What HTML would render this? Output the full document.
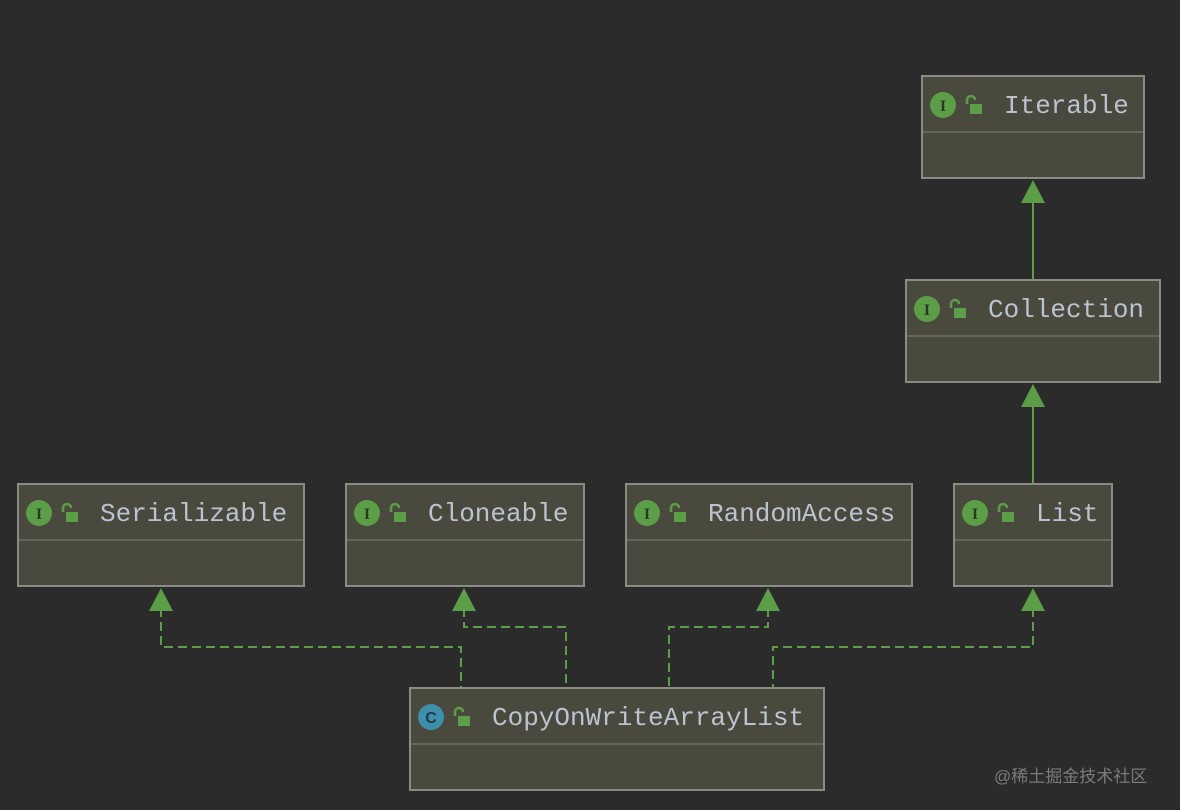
<!DOCTYPE html>
<html><head><meta charset="utf-8"><style>
html,body{margin:0;padding:0;background:#2b2b2b;}
svg{display:block;}
.t{font-family:"Liberation Mono",monospace;font-size:26px;fill:#bac3cf;}
</style></head><body>
<svg width="1180" height="810" xmlns="http://www.w3.org/2000/svg">
<rect width="1180" height="810" fill="#2b2b2b"/>
<defs>
<g id="lock"><path d="M-5,-4 v-4 a4,4 0 0 1 8,0" fill="none" stroke="#5b9e47" stroke-width="2.5"/><rect x="-2" y="-4" width="12" height="10" fill="#5b9e47"/></g>
</defs>
<g stroke="#5b9e47" stroke-width="2" fill="none">
<line x1="1033" y1="200" x2="1033" y2="280"/>
<line x1="1033" y1="404" x2="1033" y2="484"/>
<g stroke-dasharray="9,5">
<polyline points="161,608 161,647 461,647 461,688"/>
<polyline points="464,608 464,627 566,627 566,688"/>
<polyline points="768,608 768,627 669,627 669,688"/>
<polyline points="1033,608 1033,647 773,647 773,688"/>
</g>
</g>
<g fill="#5b9e47">
<polygon points="1033,180 1021,203 1045,203"/>
<polygon points="1033,384 1021,407 1045,407"/>
<polygon points="161,588 149,611 173,611"/>
<polygon points="464,588 452,611 476,611"/>
<polygon points="768,588 756,611 780,611"/>
<polygon points="1033,588 1021,611 1045,611"/>
</g>
<g transform="translate(922,76)"><rect x="0" y="0" width="222" height="102" fill="#4a493e" stroke="#8b8b85" stroke-width="2"/><line x1="1" y1="56" x2="221" y2="56" stroke="#66655a" stroke-width="2"/><circle cx="21" cy="29" r="13" fill="#5b9e47"/><text x="21" y="35" font-family="Liberation Serif,serif" font-size="16" font-weight="bold" fill="#2b3a22" text-anchor="middle">I</text><use href="#lock" x="50" y="32"/><text class="t" x="82" y="37">Iterable</text></g>
<g transform="translate(906,280)"><rect x="0" y="0" width="254" height="102" fill="#4a493e" stroke="#8b8b85" stroke-width="2"/><line x1="1" y1="56" x2="253" y2="56" stroke="#66655a" stroke-width="2"/><circle cx="21" cy="29" r="13" fill="#5b9e47"/><text x="21" y="35" font-family="Liberation Serif,serif" font-size="16" font-weight="bold" fill="#2b3a22" text-anchor="middle">I</text><use href="#lock" x="50" y="32"/><text class="t" x="82" y="37">Collection</text></g>
<g transform="translate(18,484)"><rect x="0" y="0" width="286" height="102" fill="#4a493e" stroke="#8b8b85" stroke-width="2"/><line x1="1" y1="56" x2="285" y2="56" stroke="#66655a" stroke-width="2"/><circle cx="21" cy="29" r="13" fill="#5b9e47"/><text x="21" y="35" font-family="Liberation Serif,serif" font-size="16" font-weight="bold" fill="#2b3a22" text-anchor="middle">I</text><use href="#lock" x="50" y="32"/><text class="t" x="82" y="37">Serializable</text></g>
<g transform="translate(346,484)"><rect x="0" y="0" width="238" height="102" fill="#4a493e" stroke="#8b8b85" stroke-width="2"/><line x1="1" y1="56" x2="237" y2="56" stroke="#66655a" stroke-width="2"/><circle cx="21" cy="29" r="13" fill="#5b9e47"/><text x="21" y="35" font-family="Liberation Serif,serif" font-size="16" font-weight="bold" fill="#2b3a22" text-anchor="middle">I</text><use href="#lock" x="50" y="32"/><text class="t" x="82" y="37">Cloneable</text></g>
<g transform="translate(626,484)"><rect x="0" y="0" width="286" height="102" fill="#4a493e" stroke="#8b8b85" stroke-width="2"/><line x1="1" y1="56" x2="285" y2="56" stroke="#66655a" stroke-width="2"/><circle cx="21" cy="29" r="13" fill="#5b9e47"/><text x="21" y="35" font-family="Liberation Serif,serif" font-size="16" font-weight="bold" fill="#2b3a22" text-anchor="middle">I</text><use href="#lock" x="50" y="32"/><text class="t" x="82" y="37">RandomAccess</text></g>
<g transform="translate(954,484)"><rect x="0" y="0" width="158" height="102" fill="#4a493e" stroke="#8b8b85" stroke-width="2"/><line x1="1" y1="56" x2="157" y2="56" stroke="#66655a" stroke-width="2"/><circle cx="21" cy="29" r="13" fill="#5b9e47"/><text x="21" y="35" font-family="Liberation Serif,serif" font-size="16" font-weight="bold" fill="#2b3a22" text-anchor="middle">I</text><use href="#lock" x="50" y="32"/><text class="t" x="82" y="37">List</text></g>
<g transform="translate(410,688)"><rect x="0" y="0" width="414" height="102" fill="#4a493e" stroke="#8b8b85" stroke-width="2"/><line x1="1" y1="56" x2="413" y2="56" stroke="#66655a" stroke-width="2"/><circle cx="21" cy="29" r="13" fill="#3d8fab"/><text x="21" y="35" font-family="Liberation Sans,sans-serif" font-size="16" font-weight="bold" fill="#1d3a48" text-anchor="middle">C</text><use href="#lock" x="50" y="32"/><text class="t" x="82" y="37">CopyOnWriteArrayList</text></g>
<text x="994" y="782" font-family="Liberation Sans,'Noto Sans CJK SC',sans-serif" font-size="17" fill="#7a7a7a">@稀土掘金技术社区</text>
</svg>
</body></html>
